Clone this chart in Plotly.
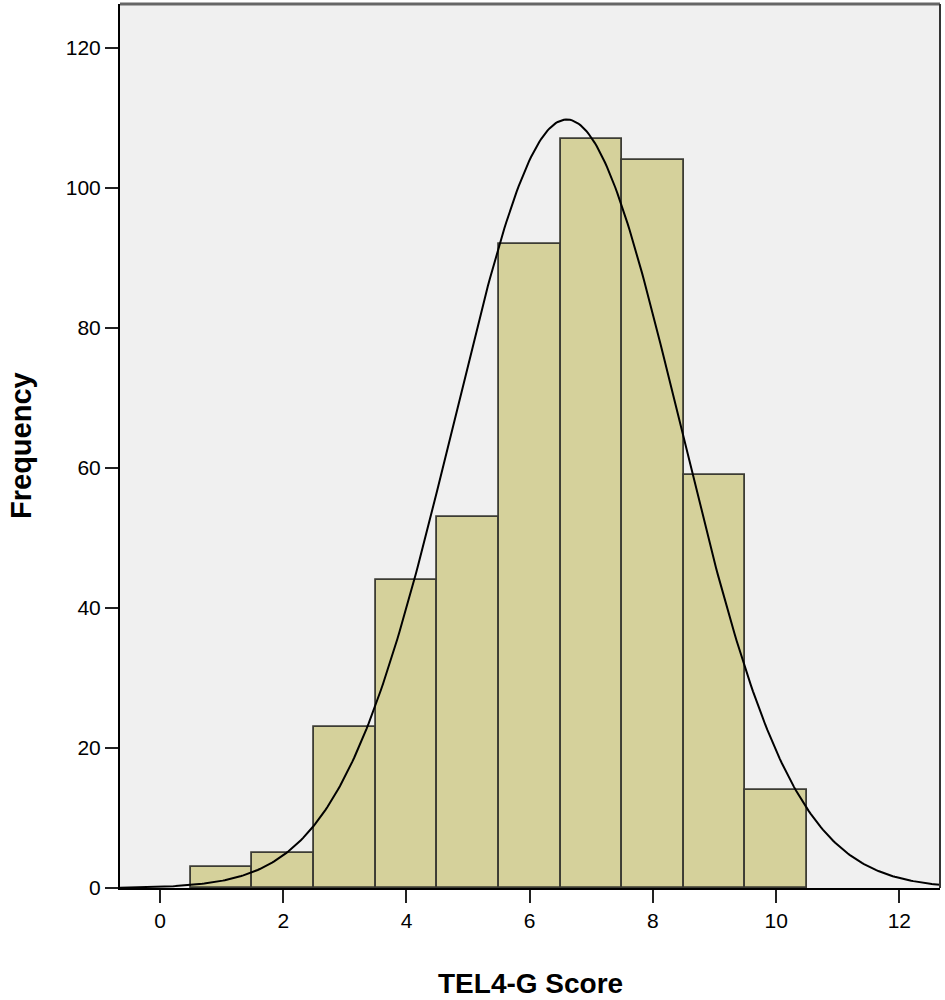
import math
import numpy as np
import plotly.graph_objects as go

# ---------------------------
# Data
# ---------------------------
score_bins = [1, 2, 3, 4, 5, 6, 7, 8, 9, 10]
frequencies = [3, 5, 23, 44, 53, 92, 107, 104, 59, 14]
x_ticks = [0, 2, 4, 6, 8, 10, 12]
y_ticks = [0, 20, 40, 60, 80, 100, 120]

BAR_FILL = "#d5d19b"
BAR_EDGE = "#3c3c34"

# normal curve fitted to the binned data (like SPSS "display normal curve")
xs = np.array(score_bins, dtype=float)
fs = np.array(frequencies, dtype=float)
n = fs.sum()
mean = (xs * fs).sum() / n
sd = math.sqrt(((xs - mean) ** 2 * fs).sum() / (n - 1))
curve_x = np.linspace(-0.65, 12.66, 400)
curve_y = n * 1.0 / (sd * math.sqrt(2 * math.pi)) * np.exp(-0.5 * ((curve_x - mean) / sd) ** 2)

fig = go.Figure()
fig.add_trace(go.Bar(
    x=score_bins,
    y=frequencies,
    width=1.0,
    marker=dict(color=BAR_FILL, line=dict(color=BAR_EDGE, width=1.8)),
    hovertemplate="%{x}: %{y}<extra></extra>",
))
fig.add_trace(go.Scatter(
    x=curve_x,
    y=curve_y,
    mode="lines",
    line=dict(color="black", width=2),
    hoverinfo="skip",
))

axis_common = dict(
    ticks="outside",
    ticklen=13,
    tickwidth=2,
    tickcolor="#222222",
    showgrid=False,
    zeroline=False,
    showline=True,
    linecolor="black",
    linewidth=2,
    automargin=False,
)

fig.update_layout(
    width=945,
    height=1000,
    margin=dict(l=120, r=5, t=4, b=112),
    paper_bgcolor="white",
    plot_bgcolor="#f0f0f0",
    showlegend=False,
    bargap=0,
    font=dict(family="Liberation Sans, Arial, sans-serif", color="black", size=21),
    xaxis=dict(range=[-0.65, 12.66], tickvals=x_ticks, **axis_common),
    yaxis=dict(range=[0, 126.3], tickvals=y_ticks, **axis_common),
    annotations=[
        dict(text="<b>TEL4-G Score</b>", xref="paper", yref="paper",
             x=0.5, y=0, yshift=-95, showarrow=False, font=dict(size=28),
             xanchor="center", yanchor="middle"),
        dict(text="<b>Frequency</b>", xref="paper", yref="paper",
             x=0, y=0.5, xshift=-99, textangle=-90, showarrow=False,
             font=dict(size=29), xanchor="center", yanchor="middle"),
    ],
    shapes=[
        # top and right frame of the plot area
        dict(type="line", xref="paper", yref="paper", x0=0, x1=1, y0=1, y1=1,
             line=dict(color="#666666", width=3)),
        dict(type="line", xref="paper", yref="paper", x0=1, x1=1, y0=0, y1=1,
             line=dict(color="#333333", width=2)),
    ],
)

# page body has a default 8px margin; drop it so the figure fills the window
fig.write_html("out.html", config={"displayModeBar": False},
               post_script="document.body.style.margin='0';")
